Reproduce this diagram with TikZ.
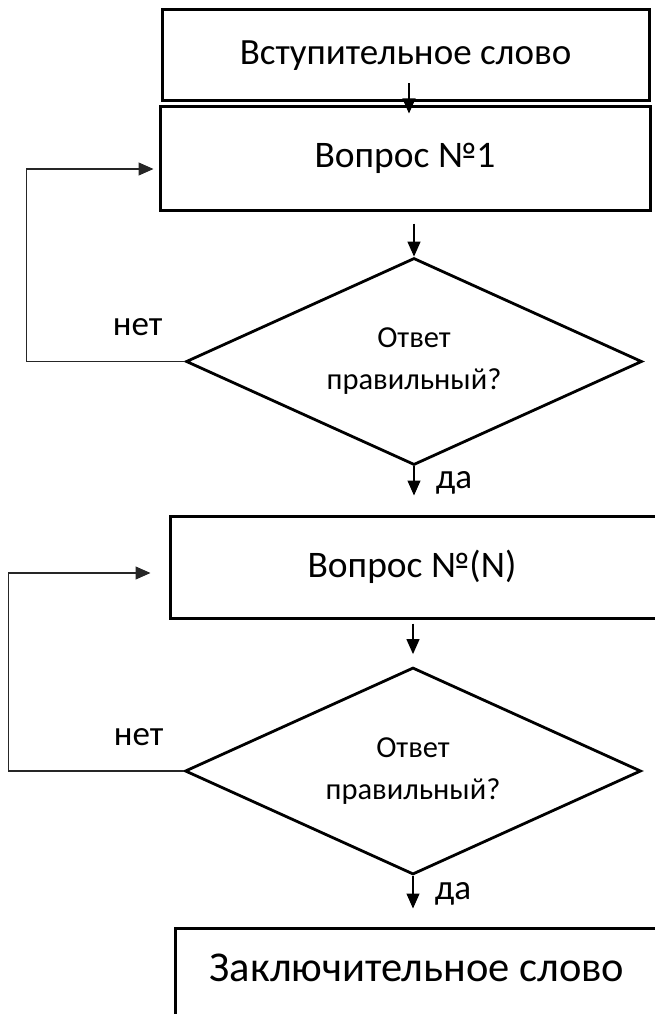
\documentclass[tikz,border=0pt]{standalone}
\usepackage{fontspec}
\setmainfont{Carlito}
\usepackage{tikz}
\usetikzlibrary{shapes.geometric,arrows.meta,positioning}

\begin{document}
\begin{tikzpicture}[x=1pt,y=-1pt,
		blok/.style={draw,line width=3pt,rectangle,inner sep=0pt},
		romb/.style={draw,line width=2.8pt,diamond,shape aspect=2.2,inner sep=0pt,minimum width=456pt,minimum height=207pt,align=center,font=\fontsize{30.5}{42}\selectfont},
		strelka/.style={-{Triangle[length=15pt,width=13pt]},line width=1.2pt},
		petlya/.style={-{Triangle[length=15pt,width=13pt]},line width=1.2pt,draw=black!85},
		nadpis/.style={font=\fontsize{35}{40}\selectfont}]
			\useasboundingbox (0,0) rectangle (655,1014);
			\clip (0,0) rectangle (655,1014);
			\node[blok,minimum width=487pt,minimum height=91pt,font=\fontsize{37}{40}\selectfont] (vstup) at (405.5,55.5) {Вступительное слово};
			\node[blok,minimum width=490pt,minimum height=103pt,font=\fontsize{37.5}{40}\selectfont] (vopr1) at (405,158.5) {Вопрос №1};
			\node[romb] (otv1) at (414,361.5) {Ответ\\правильный?};
			\node[blok,minimum width=560pt,minimum height=102pt] (vopr2) at (450,567) {};
			\node[font=\fontsize{37.5}{40}\selectfont] (vopr2txt) at (412,567) {Вопрос №(N)};
			\node[romb] (otv2) at (413,771) {Ответ\\правильный?};
			\node[blok,minimum width=560pt,minimum height=150pt] (zakl) at (455,1003) {};
			\node[font=\fontsize{42.5}{48}\selectfont] (zakltxt) at (417,968) {Заключительное слово};
			\draw[strelka] ([xshift=3.5pt,yshift=19pt]vstup.south) -- ([xshift=4pt,yshift=-8pt]vopr1.north);
			\draw[strelka] ([yshift=-12pt]vopr1.south -| otv1.north) -- (otv1.north);
			\draw[strelka] (otv1.south) -- ([yshift=19pt]vopr2.north -| otv1.south) node[nadpis,midway,right=18pt,yshift=-2pt] (da1) {да};
			\draw[strelka] ([yshift=-4pt]vopr2.south -| otv2.north) -- ([yshift=12pt]otv2.north);
			\draw[strelka] (otv2.south) -- ([yshift=18pt]zakl.north -| otv2.south) node[nadpis,midway,right=18pt,yshift=-2pt] (da2) {да};
			\draw[petlya] (otv1.west) -- ++(-158,0) |- ([xshift=-5pt,yshift=-10.5pt]vopr1.west);
			\draw[petlya] (otv2.west) -- ++(-175,0) |- ([xshift=-18pt,yshift=-6pt]vopr2.west);
			\node[nadpis] (net1) at ([xshift=-47pt,yshift=34pt]otv1.west) {нет};
			\node[nadpis] (net2) at ([xshift=-45pt,yshift=34pt]otv2.west) {нет};
		\end{tikzpicture}
\end{document}
